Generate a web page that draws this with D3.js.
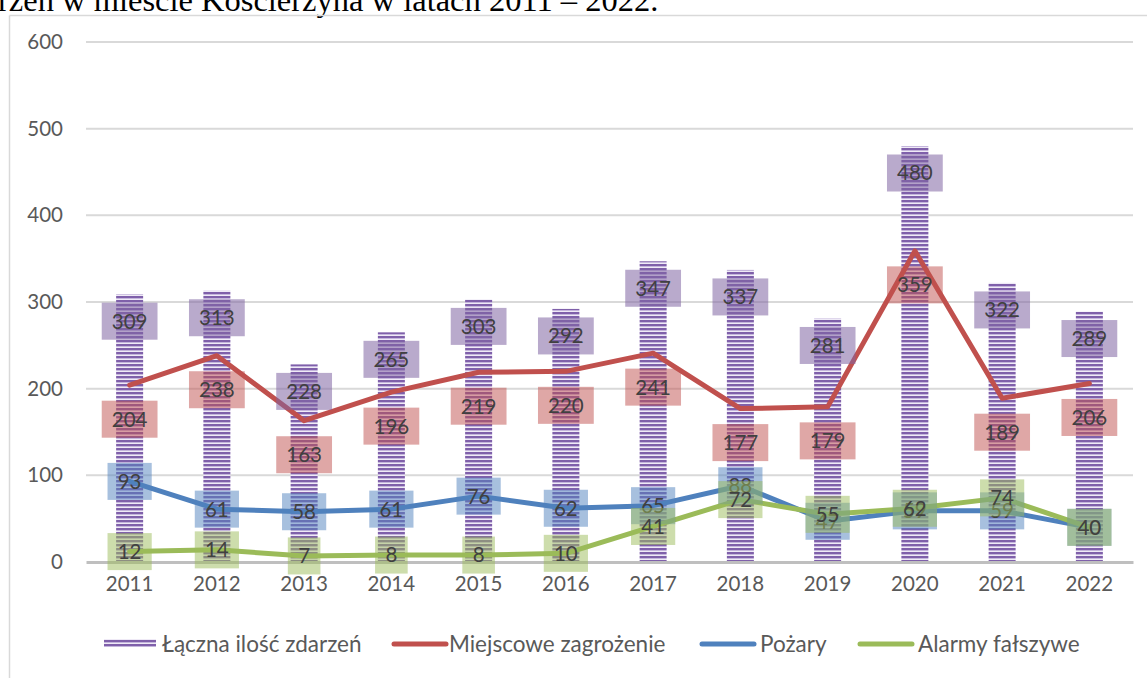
<!DOCTYPE html>
<html><head><meta charset="utf-8">
<script src="https://cdn.jsdelivr.net/npm/d3@7"></script>
<style>body{margin:0;background:#fff;overflow:hidden}svg{display:block}</style>
</head><body>
<svg id="c" width="1147" height="678"></svg>
<script>
const years = ["2011","2012","2013","2014","2015","2016","2017","2018","2019","2020","2021","2022"];
const total = [309,313,228,265,303,292,347,337,281,480,322,289];
const local = [204,238,163,196,219,220,241,177,179,359,189,206];
const fires = [93,61,58,61,76,62,65,88,47,59,59,40];
const falseAlarms = [12,14,7,8,8,10,41,72,55,62,74,40];
const yTicks = [0,100,200,300,400,500,600];
const seriesNames = ["Łączna ilość zdarzeń","Miejscowe zagrożenie","Pożary","Alarmy fałszywe"];
const titleText = "rzeń w mieście Kościerzyna w latach 2011 – 2022.";

const svg = d3.select("#c");
const font = "Lato, 'Open Sans', sans-serif";
const purple="#8064a2", red="#c0504d", blue="#4f81bd", green="#9bbb59";

const defs = svg.append("defs");
const pat = defs.append("pattern").attr("id","stripes").attr("patternUnits","userSpaceOnUse")
  .attr("width",8).attr("height",4);
pat.append("rect").attr("width",8).attr("height",4).attr("fill","#7f60aa");
pat.append("rect").attr("y",2).attr("width",8).attr("height",1).attr("fill","#c4b5dc");
pat.append("rect").attr("y",3).attr("width",8).attr("height",1).attr("fill","#efeaf6");

// title fragment
svg.append("text").attr("x",-2).attr("y",11).attr("font-family","'Liberation Serif','Times New Roman',serif")
  .attr("font-size",32.5).attr("fill","#000").text(titleText);

// frame
svg.append("line").attr("x1",9.5).attr("x2",9.5).attr("y1",15.5).attr("y2",678).attr("stroke","#d9d9d9").attr("stroke-width",1.5);
svg.append("line").attr("x1",9.5).attr("x2",1147).attr("y1",15.5).attr("y2",15.5).attr("stroke","#d9d9d9").attr("stroke-width",1.5);

const x = d3.scaleBand().domain(years).range([86,1133]).padding(0);
const y = d3.scaleLinear().domain([0,600]).range([562,42]);
const cx = d => x(d)+x.bandwidth()/2;

// grid
svg.append("g").selectAll("line").data(yTicks.filter(t=>t>0)).join("line")
  .attr("x1",86).attr("x2",1133).attr("y1",d=>y(d)).attr("y2",d=>y(d))
  .attr("stroke","#d9d9d9").attr("stroke-width",2);

// y axis
const ya = svg.append("g").attr("transform","translate(63,0)")
  .call(d3.axisLeft(y).tickValues(yTicks).tickSize(0).tickPadding(0));
ya.select(".domain").remove();
ya.selectAll("text").attr("font-family",font).attr("font-size",20.5).attr("fill","#595959");

// bars
svg.append("g").selectAll("rect").data(years).join("rect")
  .attr("x",(d)=>cx(d)-13.5).attr("width",27)
  .attr("y",(d,i)=>y(total[i])).attr("height",(d,i)=>y(0)-y(total[i]))
  .attr("fill","url(#stripes)");

// x axis
const xa = svg.append("g").attr("transform","translate(0,562)")
  .call(d3.axisBottom(x).tickSize(0).tickPadding(14));
xa.select(".domain").attr("stroke","#bfbfbf").attr("stroke-width",3);
xa.selectAll("text").attr("font-family",font).attr("font-size",20.5).attr("fill","#595959");

// lines
const line = d3.line().x((d,i)=>cx(years[i])).y(d=>y(d));
[[local,red],[fires,blue],[falseAlarms,green]].forEach(([data,col])=>{
  svg.append("path").datum(data).attr("d",line).attr("fill","none")
    .attr("stroke",col).attr("stroke-width",5).attr("stroke-linejoin","round").attr("stroke-linecap","round");
});

// labels
function labels(data,col,op,dy){
  const g = svg.append("g");
  data.forEach((v,i)=>{
    const px = cx(years[i]), py = y(v)+dy(v);
    const w = String(v).length*11.6+21, h=37;
    g.append("rect").attr("x",px-w/2).attr("y",py-h/2).attr("width",w).attr("height",h)
      .attr("fill",col).attr("fill-opacity",op);
    g.append("text").attr("x",px).attr("y",py).attr("dy","0.36em").attr("text-anchor","middle")
      .attr("font-family",font).attr("font-size",20.5).attr("fill","#404040").text(v);
  });
}
labels(total,purple,0.55,()=>27);
labels(local,red,0.5,()=>34);
labels(fires,blue,0.5,()=>0);
labels(falseAlarms,green,0.5,()=>0);

// legend
const leg = [
  {x:104,tx:162,type:"bar",col:purple},
  {x:392,tx:449,type:"line",col:red},
  {x:700,tx:760,type:"line",col:blue},
  {x:858,tx:918,type:"line",col:green}
];
leg.forEach((l,i)=>{
  if(l.type==="bar"){
    svg.append("rect").attr("x",l.x).attr("y",639).attr("width",52).attr("height",8).attr("fill","url(#stripes)");
  } else {
    svg.append("line").attr("x1",l.x+2).attr("x2",l.x+54).attr("y1",644).attr("y2",644)
      .attr("stroke",l.col).attr("stroke-width",5).attr("stroke-linecap","round");
  }
  svg.append("text").attr("x",l.tx).attr("y",644).attr("dy","0.36em")
    .attr("font-family",font).attr("font-size",22.5).attr("fill","#595959").text(seriesNames[i]);
});
</script>
</body></html>
